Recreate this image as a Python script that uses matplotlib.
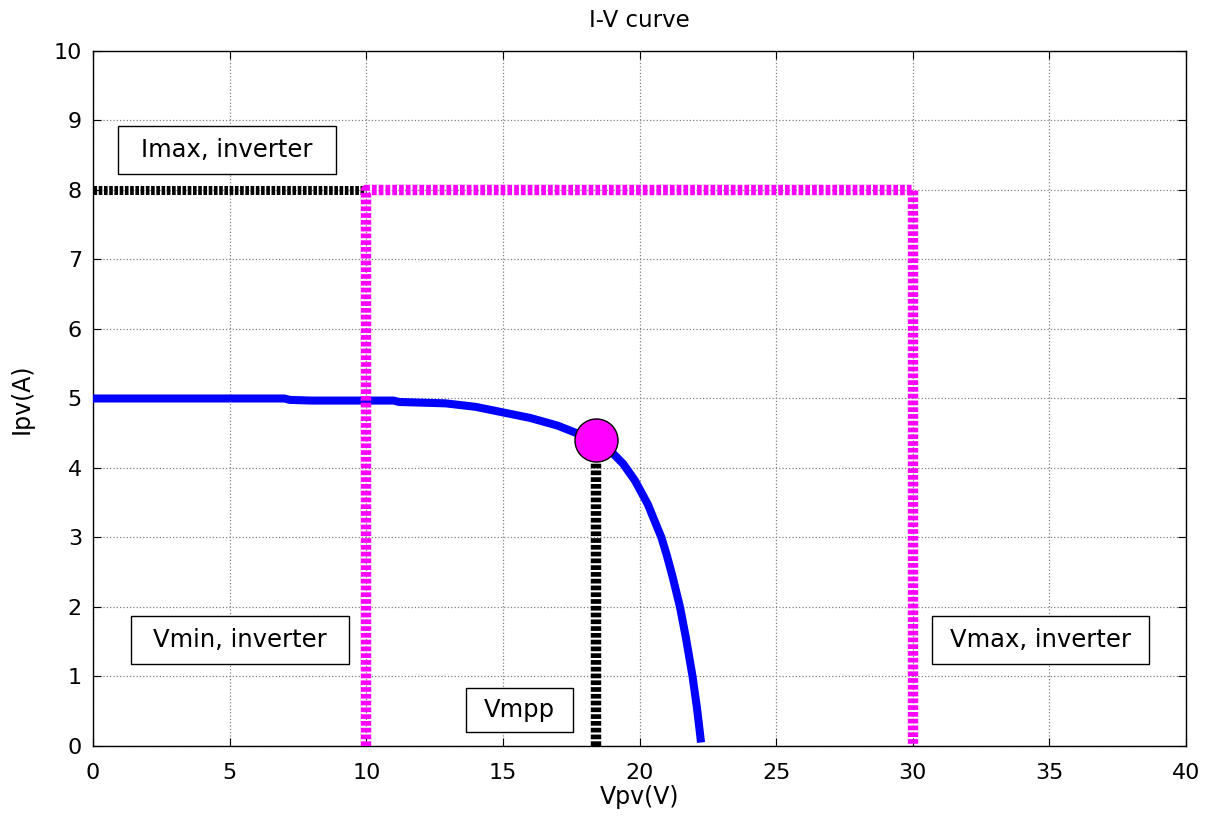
import matplotlib
matplotlib.use("Agg")
import matplotlib.pyplot as plt
from matplotlib.patches import Rectangle

plt.rcParams['font.family'] = ['DejaVu Sans']

# I-V curve of the PV module
vpv = [0, 2, 4, 6, 7, 7.2, 8, 10, 11, 11.2, 12.9, 14, 15, 16, 17, 17.45, 18.4,
       19.0, 19.4, 19.83, 20.3, 20.8, 21.0, 21.2, 21.48, 21.7, 21.94, 22.1, 22.2, 22.25]
ipv = [5.0, 5.0, 5.0, 5.0, 5.0, 4.98, 4.97, 4.97, 4.97, 4.95, 4.93, 4.88, 4.80,
       4.72, 4.61, 4.54, 4.39, 4.22, 4.06, 3.82, 3.48, 3.0, 2.74, 2.45, 2.0,
       1.55, 1.0, 0.55, 0.22, 0.05]

# maximum power point
v_mpp = 18.4
i_mpp = 4.4

# inverter window
v_min_inv = 10
v_max_inv = 30
i_max_inv = 8

# text boxes: label, x0, x1, y0, y1
box_labels = ["Imax, inverter", "Vmin, inverter", "Vmax, inverter", "Vmpp"]
box_x0 = [0.91, 1.39, 30.7, 13.65]
box_x1 = [8.89, 9.37, 38.64, 17.56]
box_y0 = [8.23, 1.18, 1.18, 0.20]
box_y1 = [8.92, 1.87, 1.87, 0.83]

fig = plt.figure(figsize=(12.1, 8.16), dpi=100)
ax = fig.add_axes([0.0769, 0.0858, 0.9033, 0.8517])

dots = (0, (0.45, 0.2))
mag = '#ff00ff'

ax.plot(vpv, ipv, color='#0000ff', lw=5.8, solid_capstyle='butt',
        solid_joinstyle='round', zorder=3)

ax.plot([0, v_min_inv], [i_max_inv, i_max_inv], color='black', lw=6.5,
        linestyle=(0, (0.4, 0.18)), dash_capstyle='butt', zorder=4)
ax.plot([v_min_inv, v_min_inv, v_max_inv, v_max_inv],
        [0, i_max_inv, i_max_inv, 0], color=mag, lw=7.5,
        linestyle=dots, dash_capstyle='butt', zorder=4)
ax.plot([v_mpp, v_mpp], [0, i_mpp], color='black', lw=7.5,
        linestyle=dots, dash_capstyle='butt', zorder=4)
ax.plot([v_mpp], [i_mpp], 'o', ms=31, mfc=mag, mec='black', mew=1.0, zorder=5)

for lab, x0, x1, y0, y1 in zip(box_labels, box_x0, box_x1, box_y0, box_y1):
    ax.add_patch(Rectangle((x0, y0), x1 - x0, y1 - y0, fc='white', ec='black',
                           lw=1.0, zorder=6))
    ax.text((x0 + x1) / 2, (y0 + y1) / 2, lab, fontsize=17.5, ha='center',
            va='center', zorder=7)

ax.set_xlim(0, 40)
ax.set_ylim(0, 10)
ax.set_xticks(range(0, 41, 5))
ax.set_yticks(range(0, 11, 1))
ax.tick_params(direction='in', top=True, right=True, labelsize=16, length=6)
ax.tick_params(axis='x', pad=12)
ax.tick_params(axis='y', pad=8)
ax.grid(True, linestyle=':', color='#808080', lw=0.9)
ax.set_axisbelow(True)
for s in ax.spines.values():
    s.set_linewidth(1.0)

ax.set_xlabel('Vpv(V)', fontsize=17, labelpad=2)
ax.set_ylabel('Ipv(A)', fontsize=17, labelpad=14)
ax.set_title('I-V curve', fontsize=16.5, pad=17)

fig.savefig('out.png', dpi=100)
